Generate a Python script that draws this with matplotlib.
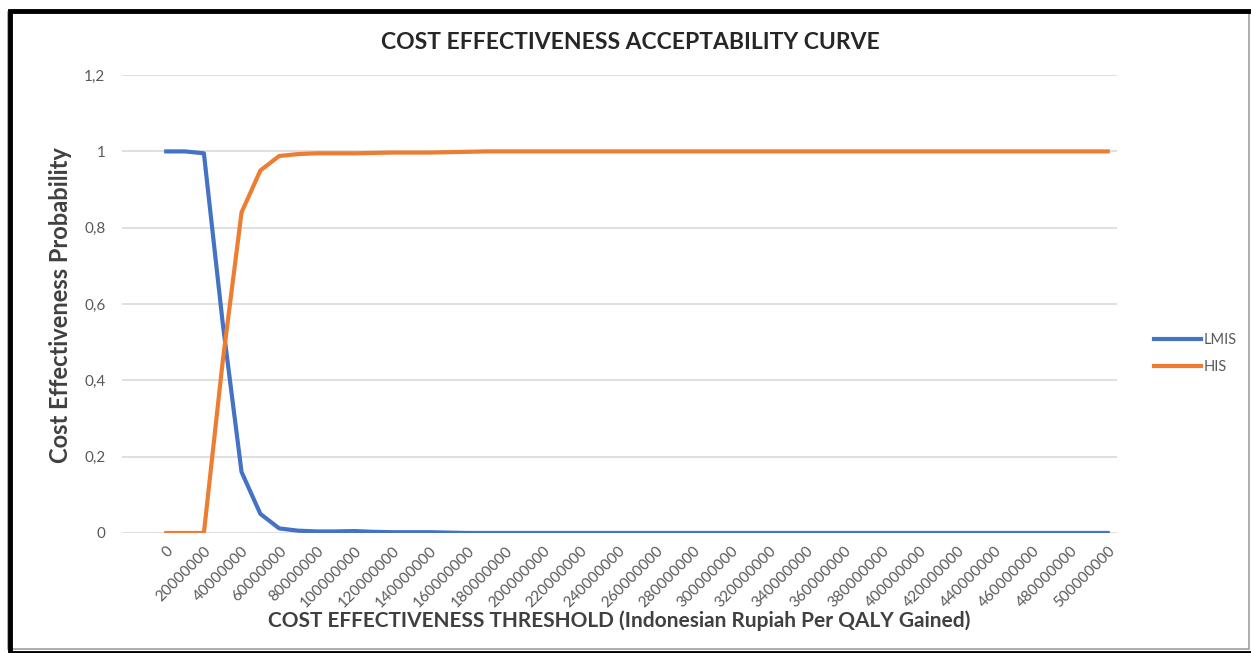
import matplotlib
matplotlib.use("Agg")
import matplotlib.pyplot as plt
from matplotlib.patches import Rectangle

plt.rcParams['font.family'] = ['Lato', 'DejaVu Sans']

# thresholds in Rupiah, one point every 10 million
thresholds = list(range(0, 500000001, 10000000))

lmis = [1.0, 1.0, 0.995, 0.55, 0.16, 0.05, 0.012, 0.006, 0.004, 0.004,
        0.005, 0.003, 0.002, 0.002, 0.002, 0.001] + [0.0] * 35
his = [0.0, 0.0, 0.0, 0.45, 0.84, 0.95, 0.988, 0.993, 0.995, 0.995,
       0.995, 0.996, 0.997, 0.997, 0.997, 0.998, 0.999] + [1.0] * 34

y_ticks = [0, 0.2, 0.4, 0.6, 0.8, 1.0, 1.2]
y_labels = ["0", "0,2", "0,4", "0,6", "0,8", "1", "1,2"]

fig = plt.figure(figsize=(12.51, 6.53), dpi=100)
ax = fig.add_axes([0.0975, 0.1838, 0.7955, 0.7012])

idx = list(range(len(thresholds)))
ax.plot(idx, lmis, color="#4472C4", lw=3, label="LMIS", solid_joinstyle="round")
ax.plot(idx, his, color="#ED7D31", lw=3, label="HIS", solid_joinstyle="round")

ax.set_ylim(0, 1.2)
ax.set_xlim(-2.35, 50.5)
ax.set_yticks(y_ticks)
ax.set_yticklabels(y_labels)
ax.set_xticks(idx[::2])
ax.set_xticklabels([str(t) for t in thresholds[::2]], rotation=45,
                   ha="right", va="top", rotation_mode="anchor")
ax.tick_params(axis="both", length=0, colors="#595959", labelsize=11)
ax.tick_params(axis="x", pad=8)
ax.tick_params(axis="y", pad=12)
ax.grid(axis="y", color="#d9d9d9", lw=1.2)
ax.set_axisbelow(True)
for s in ax.spines.values():
    s.set_visible(False)

fig.text(0.504, 0.935, "COST EFFECTIVENESS ACCEPTABILITY CURVE",
         ha="center", va="center", fontsize=16.5, fontweight="bold", color="#262626")
fig.text(0.495, 0.05, "COST EFFECTIVENESS THRESHOLD (Indonesian Rupiah Per QALY Gained)",
         ha="center", va="center", fontsize=15, fontweight="bold", color="#404040")
fig.text(0.048, 0.533, "Cost Effectiveness Probability", rotation=90,
         ha="center", va="center", fontsize=17, fontweight="bold", color="#404040")

fig.legend(loc="center left", bbox_to_anchor=(0.912, 0.458), frameon=False,
           fontsize=10.5, handlelength=3.2, labelcolor="#595959",
           handletextpad=0.2, labelspacing=0.9)

# picture frame
fig.patches.append(Rectangle((8 / 1251, 4 / 653), 1241 / 1251, 637 / 653,
                             transform=fig.transFigure, fill=False,
                             edgecolor="#a0a0a0", lw=1.2))
fig.patches.append(Rectangle((10 / 1251, 0), 1.0, 642 / 653,
                             transform=fig.transFigure, fill=False,
                             edgecolor="black", lw=3.5))

fig.savefig("out.png", dpi=100)
